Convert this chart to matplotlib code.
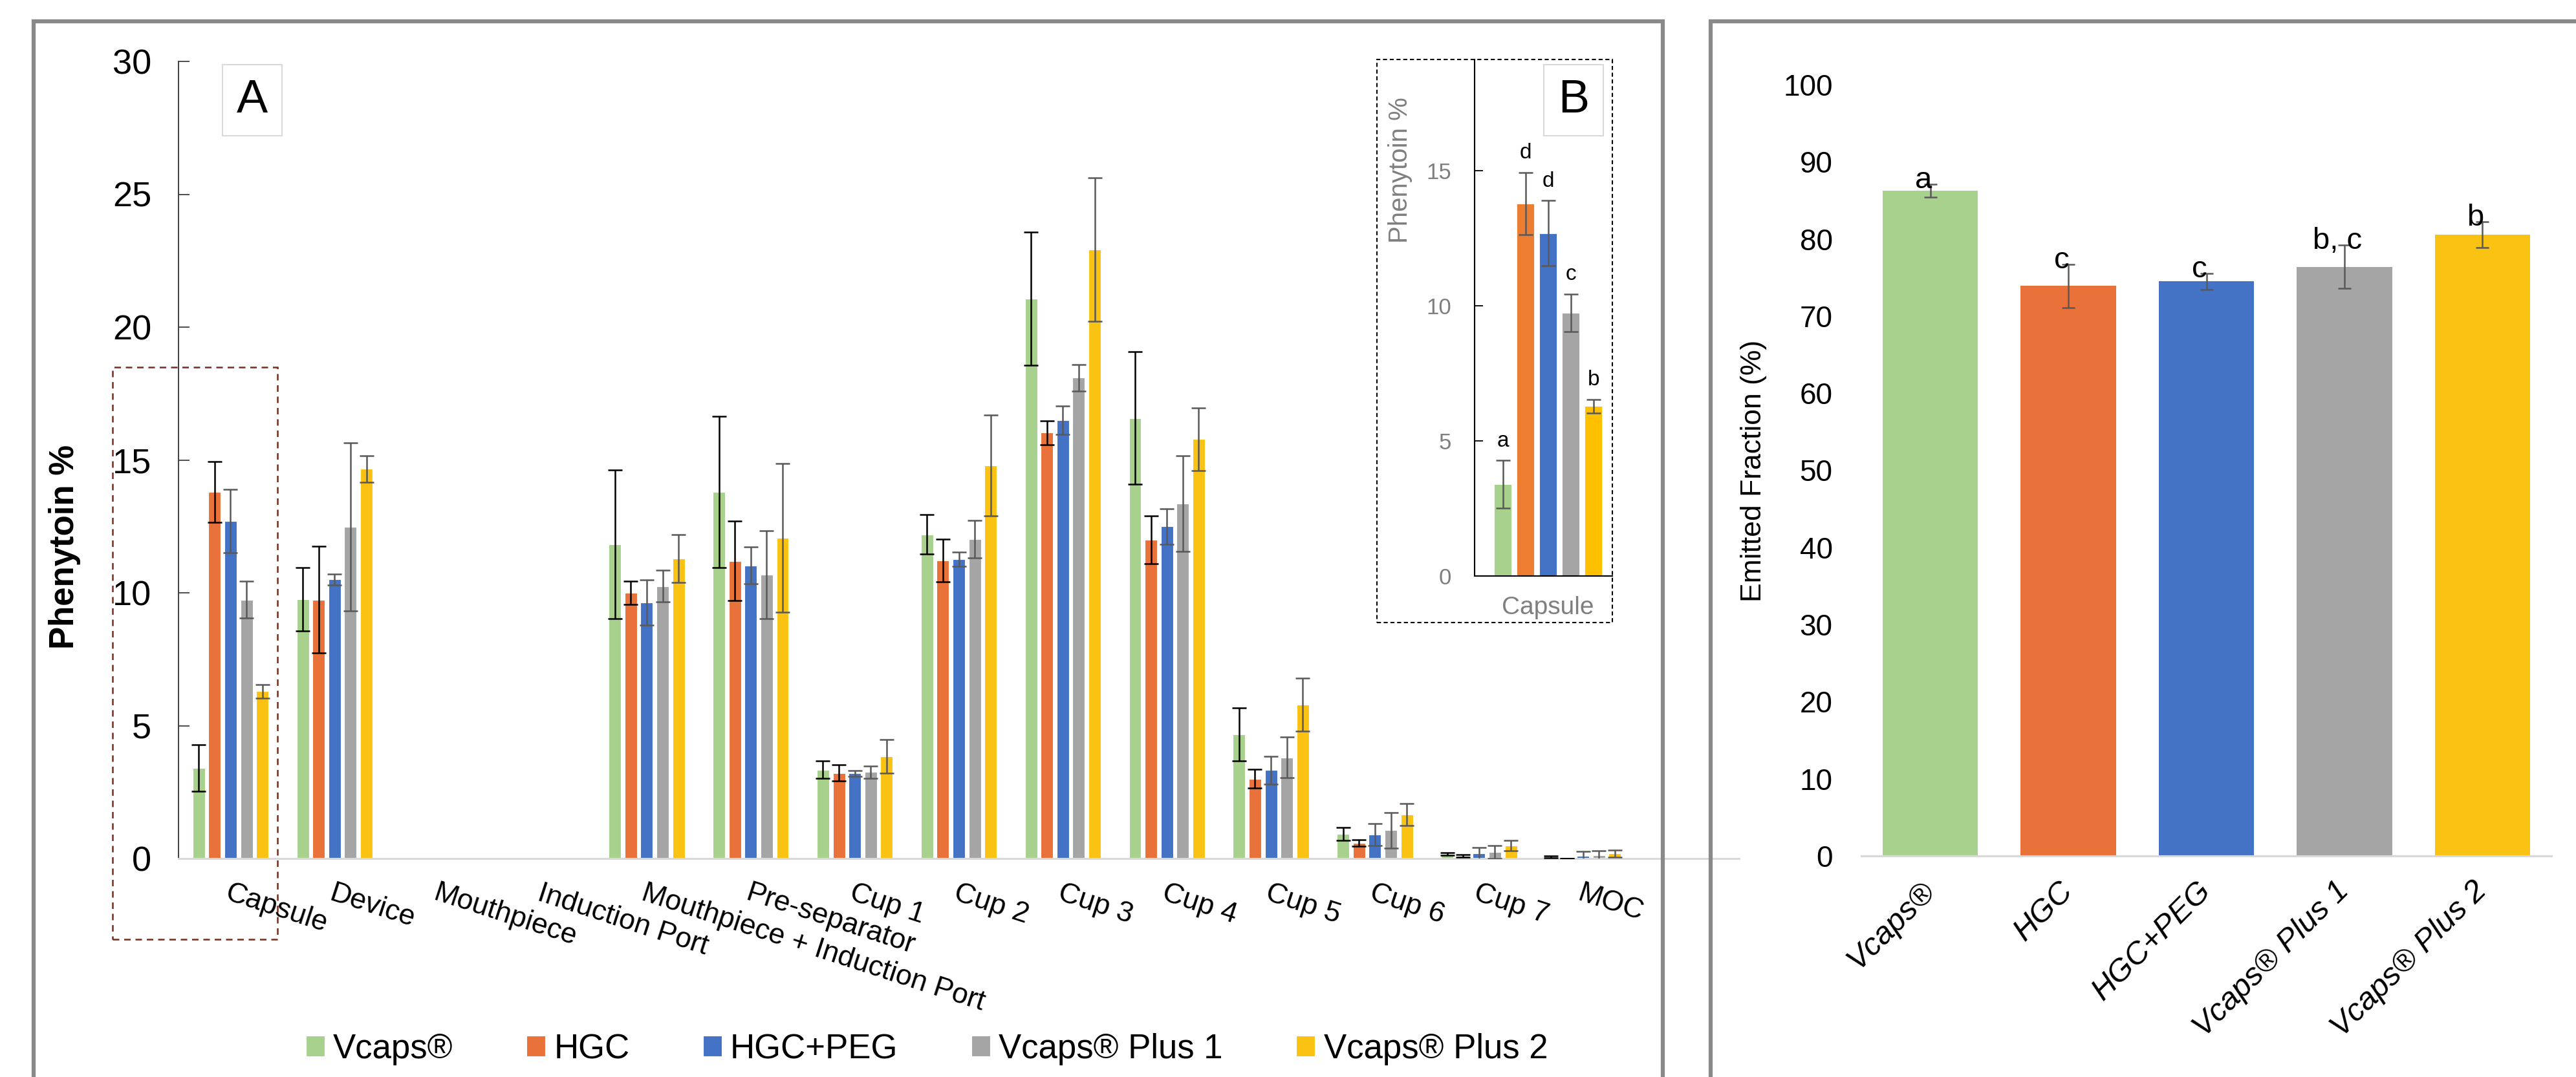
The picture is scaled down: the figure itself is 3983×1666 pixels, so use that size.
import matplotlib
matplotlib.use("Agg")
import matplotlib.pyplot as plt
from matplotlib.patches import Rectangle

nan = float("nan")

# ------------------------------------------------------------
# Data
# ------------------------------------------------------------
stages = ["Capsule", "Device", "Mouthpiece", "Induction Port",
          "Mouthpiece + Induction Port", "Pre-separator", "Cup 1", "Cup 2",
          "Cup 3", "Cup 4", "Cup 5", "Cup 6", "Cup 7", "MOC"]
formulations = ["Vcaps®", "HGC", "HGC+PEG", "Vcaps® Plus 1", "Vcaps® Plus 2"]

vcaps = [3.4, 9.76, nan, nan, 11.82, 13.8, 3.34, 12.2, 21.07, 16.58, 4.68, 0.93, 0.18, 0.06]
vcaps_sd = [0.88, 1.2, nan, nan, 2.8, 2.85, 0.33, 0.74, 2.5, 2.5, 1.0, 0.25, 0.05, 0.04]
hgc = [13.8, 9.74, nan, nan, 10.0, 11.2, 3.22, 11.22, 16.03, 11.99, 3.0, 0.58, 0.09, 0.01]
hgc_sd = [1.15, 2.0, nan, nan, 0.45, 1.5, 0.3, 0.8, 0.45, 0.9, 0.35, 0.12, 0.05, 0.0]
hgc_peg = [12.7, 10.5, nan, nan, 9.64, 11.03, 3.2, 11.27, 16.49, 12.5, 3.33, 0.9, 0.19, 0.09]
hgc_peg_sd = [1.2, 0.2, nan, nan, 0.85, 0.7, 0.12, 0.27, 0.53, 0.67, 0.52, 0.41, 0.23, 0.18]
plus1 = [9.74, 12.48, nan, nan, 10.25, 10.68, 3.25, 12.02, 18.1, 13.36, 3.8, 1.06, 0.24, 0.12]
plus1_sd = [0.7, 3.17, nan, nan, 0.6, 1.65, 0.23, 0.7, 0.5, 1.8, 0.77, 0.67, 0.25, 0.18]
plus2 = [6.29, 14.67, nan, nan, 11.3, 12.07, 3.85, 14.8, 22.93, 15.78, 5.79, 1.65, 0.48, 0.19]
plus2_sd = [0.25, 0.5, nan, nan, 0.9, 2.8, 0.63, 1.9, 2.7, 1.18, 1.0, 0.41, 0.19, 0.13]

capsule_letters = ["a", "d", "d", "c", "b"]

emitted = [86.25, 73.9, 74.5, 76.4, 80.57]
emitted_sd = [0.85, 2.8, 1.05, 2.8, 1.7]
emitted_letters = ["a", "c", "c", "b, c", "b"]

series = [vcaps, hgc, hgc_peg, plus1, plus2]
series_sd = [vcaps_sd, hgc_sd, hgc_peg_sd, plus1_sd, plus2_sd]

colors = ["#A9D18E", "#E9713A", "#4472C4", "#A5A5A5", "#FAC314"]
inset_colors = ["#A9D18E", "#ED7D31", "#4472C4", "#A5A5A5", "#FFC000"]
err_colors = ["black", "black", "#595959", "#595959", "#595959"]

plt.rcParams["font.family"] = ["Liberation Sans", "DejaVu Sans"]

W, H = 3983, 1666
fig = plt.figure(figsize=(W / 100, H / 100), dpi=100)


def fx(px):
    return px / W


def fy(py):
    return 1 - py / H


# panel frames
fig.patches.append(Rectangle((fx(52), fy(1720)), fx(2571 - 52), (1720 - 33) / H,
                             transform=fig.transFigure, fill=False,
                             edgecolor="#898989", lw=4.5, clip_on=False))
fig.patches.append(Rectangle((fx(2645), fy(1720)), fx(1500), (1720 - 33) / H,
                             transform=fig.transFigure, fill=False,
                             edgecolor="#898989", lw=4.5, clip_on=False))

# ================================================
# Panel A: deposition profile
# ================================================
ax = fig.add_axes([fx(276), fy(1328), fx(2689 - 276), (1328 - 95) / H])
x = list(range(len(stages)))
bw = 0.118
step = 0.153
handles = []
for i, (vals, sd) in enumerate(zip(series, series_sd)):
    pos = [xi + (i - 2) * step for xi in x]
    b = ax.bar(pos, vals, bw, color=colors[i], edgecolor="white", lw=0.8,
               label=formulations[i], zorder=2)
    ax.errorbar(pos, vals, yerr=sd, fmt="none", ecolor=err_colors[i],
                elinewidth=1.8, capsize=8, capthick=1.8, zorder=3)
    handles.append(b)

ax.set_xlim(-0.5, len(stages) + 0.5)
ax.set_ylim(0, 30)
ax.set_yticks([0, 5, 10, 15, 20, 25, 30])
ax.tick_params(axis="y", direction="in", length=12, width=1.3, labelsize=39, pad=30,
               color="#404040")
ax.set_xticks(x)
ax.set_xticklabels(stages, rotation=-18, ha="left", va="top", rotation_mode="anchor")
ax.tick_params(axis="x", length=0, labelsize=32, pad=24)
for s in ["top", "right"]:
    ax.spines[s].set_visible(False)
ax.spines["left"].set_color("#404040")
ax.spines["left"].set_linewidth(1.4)
ax.spines["bottom"].set_color("#D9D9D9")
ax.spines["bottom"].set_linewidth(2.2)

fig.text(fx(100), fy(846), "Phenytoin %", rotation=90, ha="center", va="center",
         fontsize=38, fontweight="bold")
fig.text(fx(390), fy(155), "A", ha="center", va="center", fontsize=52,
         bbox=dict(boxstyle="square,pad=0.3", fc="white", ec="#D9D9D9", lw=1.5))

# dashed highlight around Capsule
fig.patches.append(Rectangle((fx(174), fy(1453)), fx(429 - 174), (1453 - 568) / H,
                             transform=fig.transFigure, fill=False,
                             edgecolor="#7B2C1C", lw=1.8, ls=(0, (4, 3)),
                             clip_on=False))

fig.legend(handles=handles, labels=formulations, loc="center",
           bbox_to_anchor=(fx(1433), fy(1623)), ncol=5, frameon=False,
           fontsize=38, handlelength=0.55, handleheight=0.55,
           handletextpad=0.25, columnspacing=2.15)

# ================================================
# Panel B: capsule inset
# ================================================
fig.patches.append(Rectangle((fx(2129), fy(963)), fx(2493 - 2129), (963 - 92) / H,
                             transform=fig.transFigure, fill=True, facecolor="white",
                             edgecolor="black", lw=1.5, ls=(0, (3, 2)),
                             clip_on=False, zorder=5))
axb = fig.add_axes([fx(2280), fy(891), fx(2493 - 2280), (891 - 92) / H], zorder=6)
axb.patch.set_alpha(0)
cap_vals = [s[0] for s in series]
cap_sd = [s[0] for s in series_sd]
bx = list(range(5))
axb.bar(bx, cap_vals, 0.77, color=inset_colors, edgecolor="white", lw=0.6, zorder=2)
axb.errorbar(bx, cap_vals, yerr=cap_sd, fmt="none", ecolor="#595959",
             elinewidth=1.8, capsize=8, capthick=1.8, zorder=3)
for xi, v, e, t in zip(bx, cap_vals, cap_sd, capsule_letters):
    axb.text(xi, v + e + 0.35, t, ha="center", va="bottom", fontsize=24)
axb.set_xlim(-1.24, 4.83)
axb.set_ylim(0, 19.13)
axb.set_yticks([0, 5, 10, 15])
axb.tick_params(axis="y", direction="in", length=9, width=1.3, labelsize=25,
                labelcolor="#7F7F7F", pad=26)
axb.set_xticks([2])
axb.set_xticklabels(["Capsule"])
axb.tick_params(axis="x", length=0, labelsize=28, labelcolor="#7F7F7F", pad=22)
for s in ["top", "right"]:
    axb.spines[s].set_visible(False)
axb.spines["left"].set_linewidth(1.5)
axb.spines["bottom"].set_linewidth(1.5)
fig.text(fx(2165), fy(263), "Phenytoin %", rotation=90, ha="center", va="center",
         fontsize=29, color="#7F7F7F", zorder=7)
fig.text(fx(2433), fy(155), "B", ha="center", va="center", fontsize=52, zorder=7,
         bbox=dict(boxstyle="square,pad=0.3", fc="white", ec="#D9D9D9", lw=1.5))

# ================================================
# Panel C: emitted fraction
# ================================================
axc = fig.add_axes([fx(2878), fy(1324), fx(3945 - 2878), (1324 - 131) / H])
ex = list(range(len(formulations)))
axc.bar(ex, emitted, 0.69, color=colors, zorder=2)
axc.errorbar(ex, emitted, yerr=emitted_sd, fmt="none", ecolor="#595959",
             elinewidth=1.8, capsize=7, capthick=1.8, zorder=3)
for xi, v, e, t in zip(ex, emitted, emitted_sd, emitted_letters):
    axc.text(xi - 0.05, v + e + 0.5, t, ha="center", va="center", fontsize=34)
axc.set_xlim(-0.5, 4.5)
axc.set_ylim(0, 100)
axc.set_yticks(range(0, 101, 10))
axc.tick_params(axis="y", length=0, labelsize=33, pad=32)
axc.set_xticks(ex)
axc.set_xticklabels(formulations, rotation=45, ha="right", va="center",
                    rotation_mode="anchor", fontstyle="italic")
axc.tick_params(axis="x", length=0, labelsize=35, pad=34)
for s in ["top", "right", "left"]:
    axc.spines[s].set_visible(False)
axc.spines["bottom"].set_color("#D9D9D9")
axc.spines["bottom"].set_linewidth(2.2)
fig.text(fx(2712), fy(728), "Emitted Fraction (%)", rotation=90, ha="center",
         va="center", fontsize=32)

fig.savefig("out.png", dpi=100)
